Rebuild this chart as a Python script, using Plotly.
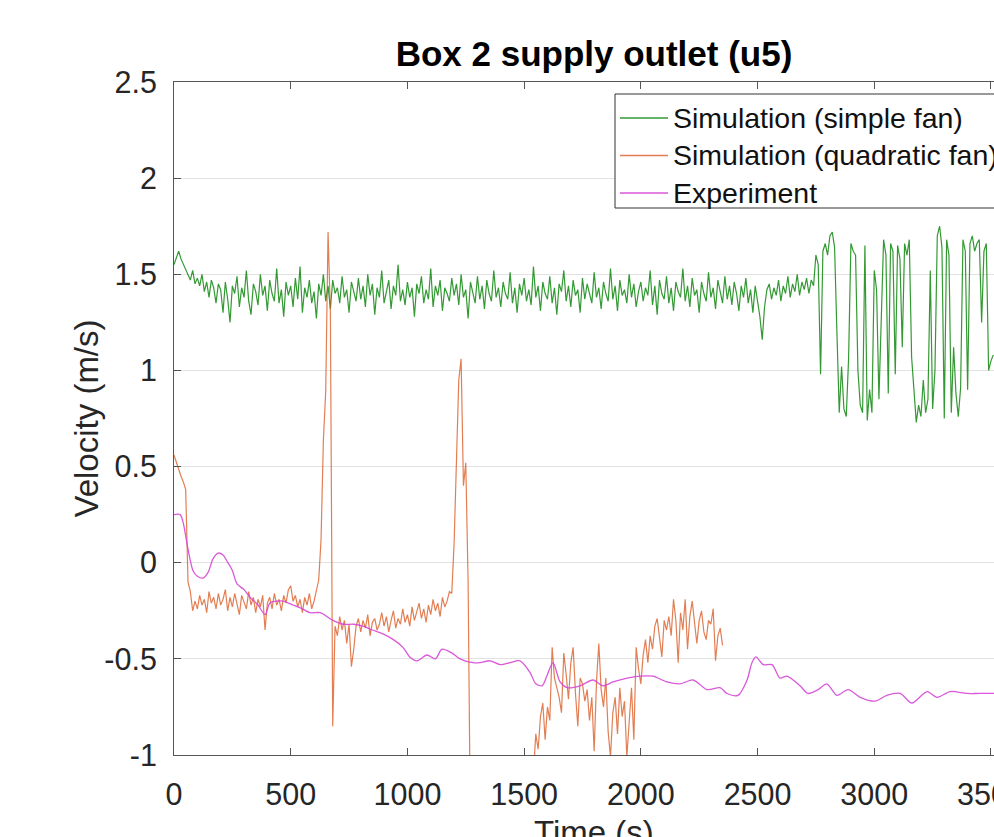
import plotly.graph_objects as go

# ---------------- data ----------------
sim_simple_t0, sim_simple_dt = 0, 10
sim_simple = [
    1.55, 1.58, 1.62, 1.58, 1.55, 1.52, 1.50, 1.47, 1.52, 1.45, 1.48, 1.44, 1.50, 1.41, 1.46, 1.38, 1.47, 1.43, 1.35, 1.45,
    1.42, 1.30, 1.46, 1.37, 1.25, 1.44, 1.40, 1.49, 1.33, 1.43, 1.38, 1.52, 1.36, 1.29, 1.45, 1.41, 1.34, 1.50, 1.39, 1.44,
    1.31, 1.47, 1.40, 1.36, 1.53, 1.35, 1.42, 1.28, 1.46, 1.39, 1.44, 1.33, 1.48, 1.37, 1.54, 1.30, 1.43, 1.38, 1.47, 1.35,
    1.41, 1.27, 1.45, 1.39, 1.50, 1.36, 1.44, 1.32, 1.47, 1.40, 1.43, 1.35, 1.49, 1.38, 1.42, 1.30, 1.46, 1.41, 1.36, 1.48,
    1.37, 1.44, 1.33, 1.50, 1.39, 1.45, 1.29, 1.43, 1.38, 1.52, 1.35, 1.41, 1.47, 1.32, 1.44, 1.39, 1.55, 1.36, 1.42, 1.34,
    1.46, 1.38, 1.43, 1.28, 1.45, 1.40, 1.49, 1.35, 1.42, 1.37, 1.53, 1.33, 1.44, 1.39, 1.47, 1.31, 1.43, 1.40, 1.36, 1.48,
    1.39, 1.45, 1.34, 1.50, 1.38, 1.42, 1.27, 1.46, 1.41, 1.35, 1.49, 1.37, 1.44, 1.32, 1.47, 1.40, 1.36, 1.52, 1.38, 1.43,
    1.33, 1.46, 1.40, 1.37, 1.51, 1.35, 1.43, 1.30, 1.45, 1.39, 1.48, 1.36, 1.42, 1.34, 1.54, 1.38, 1.44, 1.31, 1.46, 1.40,
    1.37, 1.49, 1.35, 1.43, 1.29, 1.45, 1.41, 1.52, 1.36, 1.44, 1.33, 1.47, 1.39, 1.42, 1.30, 1.48, 1.37, 1.45, 1.40, 1.35,
    1.51, 1.38, 1.43, 1.32, 1.46, 1.40, 1.36, 1.53, 1.37, 1.44, 1.31, 1.47, 1.39, 1.42, 1.35, 1.50, 1.38, 1.45, 1.33, 1.41,
    1.46, 1.36, 1.43, 1.39, 1.52, 1.34, 1.44, 1.29, 1.47, 1.40, 1.37, 1.49, 1.35, 1.43, 1.31, 1.46, 1.41, 1.38, 1.53, 1.36,
    1.44, 1.33, 1.48, 1.39, 1.42, 1.30, 1.46, 1.40, 1.36, 1.51, 1.38, 1.43, 1.32, 1.47, 1.41, 1.35, 1.49, 1.37, 1.44, 1.34,
    1.46, 1.40, 1.31, 1.44, 1.38, 1.48, 1.35, 1.42, 1.30, 1.44, 1.36, 1.28, 1.16, 1.33, 1.42, 1.45, 1.37, 1.43, 1.39, 1.47,
    1.36, 1.44, 1.40, 1.49, 1.38, 1.45, 1.41, 1.50, 1.39, 1.46, 1.42, 1.48, 1.40, 1.47, 1.44,
    1.60, 1.55, 0.98, 1.62, 1.66, 1.60, 1.70, 1.72, 1.64, 1.20, 0.78, 1.02, 0.80, 0.76, 1.06, 1.66, 1.62, 1.60, 1.00, 0.82,
    0.78, 1.65, 0.74, 0.90, 0.78, 1.52, 1.42, 0.85, 1.30, 1.68, 1.60, 0.88, 1.66, 1.62, 0.98, 1.65, 1.58, 1.12, 1.66, 1.60,
    1.68, 1.07, 0.90, 0.73, 0.82, 0.76, 0.95, 0.78, 0.85, 1.52, 0.80, 1.00, 1.70, 1.75, 1.64, 0.75, 1.68, 1.60, 0.78, 1.12,
    0.88, 0.76, 0.91, 1.68, 1.62, 0.90, 1.66, 1.70, 1.62, 1.66, 1.68, 1.25, 1.62, 1.66, 1.00, 1.05, 1.08,
]

sim_quad_t0, sim_quad_dt = 0, 10
sim_quad = [
    0.56, 0.52, 0.48, 0.45, 0.42, 0.38, -0.10, -0.15, -0.25, -0.20,
    -0.24, -0.17, -0.22, -0.19, -0.26, -0.15, -0.21, -0.18, -0.24, -0.16,
    -0.22, -0.19, -0.14, -0.25, -0.18, -0.23, -0.16, -0.21, -0.27, -0.17,
    -0.20, -0.24, -0.15, -0.22, -0.18, -0.26, -0.19, -0.23, -0.17, -0.35,
    -0.21, -0.18, -0.24, -0.16, -0.22, -0.19, -0.25, -0.17, -0.21, -0.14,
    -0.12, -0.20, -0.17, -0.23, -0.19, -0.26, -0.18, -0.22, -0.16, -0.24,
    -0.20, -0.15, -0.09, 0.12, 0.64, 0.89, 1.72, 1.30, -0.85, -0.33,
    -0.38, -0.28, -0.35, -0.30, -0.42, -0.32, -0.54, -0.45, -0.33, -0.29,
    -0.36, -0.30, -0.34, -0.27, -0.38, -0.31, -0.29, -0.35, -0.32, -0.26,
    -0.33, -0.28, -0.36, -0.30, -0.25, -0.34, -0.29, -0.32, -0.24, -0.31,
    -0.27, -0.33, -0.23, -0.30, -0.26, -0.21, -0.29, -0.24, -0.31, -0.22,
    -0.27, -0.19, -0.25, -0.21, -0.28, -0.18, -0.23, -0.20, -0.15, -0.16,
    0.10, 0.50, 0.95, 1.06, 0.40, 0.52, -0.10, -1.40, -1.60, -1.60,
    -1.60, -1.60, -1.60, -1.60, -1.60, -1.60, -1.60, -1.60, -1.60, -1.60,
    -1.60, -1.60, -1.60, -1.60, -1.60, -1.60, -1.60, -1.60, -1.60, -1.60,
    -1.60, -1.60, -1.60, -1.30, -1.10, -0.89, -0.97, -0.80, -0.73, -0.92,
    -0.75, -0.82, -0.44, -0.60, -0.65, -0.70, -0.78, -0.47, -0.58, -0.71,
    -0.52, -0.44, -0.68, -0.85, -0.60, -0.63, -0.72, -0.66, -0.82, -0.70,
    -0.98, -0.62, -0.42, -0.66, -0.75, -0.60, -0.88, -1.01, -0.78, -0.70,
    -0.89, -0.65, -0.80, -0.72, -1.01, -0.80, -0.65, -0.92, -0.44, -0.55,
    -0.63, -0.48, -0.40, -0.52, -0.38, -0.45, -0.33, -0.29, -0.40, -0.49,
    -0.30, -0.35, -0.28, -0.38, -0.19, -0.30, -0.52, -0.26, -0.35, -0.19,
    -0.45, -0.28, -0.20, -0.33, -0.42, -0.30, -0.25, -0.36, -0.40, -0.30,
    -0.32, -0.24, -0.51, -0.38, -0.34, -0.43,
]

exp_time = [0, 26, 39, 60, 81, 100, 124, 146, 167, 189, 210, 231, 250, 270, 300, 326, 360, 390, 411, 440,
            467, 510, 550, 583, 626, 681, 724, 770, 810, 850, 895, 940, 981, 1010, 1041, 1084, 1120, 1148, 1191, 1225,
            1281, 1311, 1354, 1397, 1440, 1482, 1525, 1550, 1577, 1597, 1624, 1654, 1684, 1740, 1795, 1838, 1881, 1941, 1997, 2052,
            2112, 2168, 2224, 2284, 2339, 2369, 2416, 2455, 2476, 2493, 2524, 2562, 2596, 2626, 2682, 2716, 2760, 2797, 2840, 2888,
            2940, 3004, 3054, 3111, 3161, 3226, 3269, 3325, 3397, 3450, 3513]
exp_vel = [0.25, 0.25, 0.21, 0.07, -0.04, -0.07, -0.08, -0.05, 0.02, 0.05, 0.04, 0.0, -0.04, -0.11, -0.14, -0.18, -0.22, -0.27, -0.21, -0.20,
           -0.20, -0.22, -0.24, -0.26, -0.26, -0.30, -0.32, -0.32, -0.33, -0.35, -0.37, -0.40, -0.44, -0.49, -0.51, -0.48, -0.50, -0.45, -0.47, -0.50,
           -0.52, -0.52, -0.51, -0.53, -0.52, -0.51, -0.57, -0.63, -0.64, -0.59, -0.52, -0.62, -0.65, -0.64, -0.61, -0.64, -0.62, -0.60, -0.59, -0.59,
           -0.62, -0.63, -0.61, -0.66, -0.65, -0.68, -0.69, -0.61, -0.52, -0.49, -0.53, -0.53, -0.60, -0.59, -0.64, -0.68, -0.66, -0.63, -0.69, -0.66,
           -0.70, -0.72, -0.69, -0.68, -0.73, -0.67, -0.70, -0.67, -0.68, -0.68, -0.68]

x_ticks = [0, 500, 1000, 1500, 2000, 2500, 3000, 3500]
x_tick_text = ["0", "500", "1000", "1500", "2000", "2500", "3000", "3500"]
y_ticks = [-1, -0.5, 0, 0.5, 1, 1.5, 2, 2.5]
y_tick_text = ["-1", "-0.5", "0", "0.5", "1", "1.5", "2", "2.5"]

series_names = ["Simulation (simple fan)", "Simulation (quadratic fan)", "Experiment"]
series_colors = ["rgba(0,128,0,0.8)", "rgba(217,83,25,0.75)", "rgba(214,70,214,0.9)"]
title_text = "Box 2 supply outlet (u5)"
x_label = "Time (s)"
y_label = "Velocity (m/s)"

# ---------------- figure ----------------
FONT = "Liberation Sans, Arial, Helvetica, sans-serif"
L, T, PW, PH = 174, 82, 820, 673  # plot area in pixels
X_MAX = 3513


def px_x(px):
    return (px - L) / PW


def px_y(py):
    return (T + PH - py) / PH


def px_to_data_x(px):
    return (px - L) / PW * X_MAX


t_simple = [sim_simple_t0 + i * sim_simple_dt for i in range(len(sim_simple))]
t_quad = [sim_quad_t0 + i * sim_quad_dt for i in range(len(sim_quad))]

fig = go.Figure()
fig.add_trace(go.Scatter(x=t_simple, y=sim_simple, mode="lines", name=series_names[0],
                         line=dict(color=series_colors[0], width=1.2), showlegend=False))
fig.add_trace(go.Scatter(x=t_quad, y=sim_quad, mode="lines", name=series_names[1],
                         line=dict(color=series_colors[1], width=1.2), showlegend=False))
fig.add_trace(go.Scatter(x=exp_time, y=exp_vel, mode="lines", name=series_names[2],
                         line=dict(color=series_colors[2], width=1.3, shape="spline", smoothing=0.8),
                         showlegend=False))

# Legend (box runs past the right edge of the picture, as in the reference)
shapes = [dict(type="rect", xref="paper", yref="paper", x0=px_x(615), x1=px_x(1012),
               y0=px_y(208), y1=px_y(94), fillcolor="white", line=dict(color="#333333", width=1),
               layer="above")]
annotations = []
row_y = [118, 155.5, 193]
for name, col, ry in zip(series_names, series_colors, row_y):
    shapes.append(dict(type="line", xref="paper", yref="paper", x0=px_x(620), x1=px_x(668),
                       y0=px_y(ry), y1=px_y(ry), line=dict(color=col, width=1.3), layer="above"))
    annotations.append(dict(text=name, xref="x", yref="paper", x=px_to_data_x(671), y=px_y(ry),
                            xanchor="left", yanchor="middle", showarrow=False,
                            font=dict(family=FONT, size=28.5, color="#111111")))

annotations += [
    dict(text=x_label, xref="paper", yref="paper", x=px_x(594), y=px_y(832),
         xanchor="center", yanchor="middle", showarrow=False,
         font=dict(family=FONT, size=33, color="#262626")),
    dict(text=y_label, xref="paper", yref="paper", x=px_x(86), y=0.5,
         xanchor="center", yanchor="middle", showarrow=False, textangle=-90,
         font=dict(family=FONT, size=33, color="#262626")),
]

axis_col = "#555555"
fig.update_layout(
    width=994, height=837,
    margin=dict(l=L, r=0, t=T, b=837 - T - PH),
    paper_bgcolor="white", plot_bgcolor="white",
    font=dict(family=FONT, size=30, color="#262626"),
    showlegend=False,
    title=dict(text="<b>" + title_text + "</b>", x=px_x(594), xref="paper",
               y=1 - 54 / 837, yref="container", xanchor="center", yanchor="middle",
               font=dict(family=FONT, size=35, color="#000000")),
    xaxis=dict(range=[0, X_MAX], tickvals=x_ticks, ticktext=x_tick_text,
               showgrid=False, zeroline=False, showline=True, linecolor=axis_col, linewidth=1,
               mirror="ticks", ticks="inside", ticklen=7, tickcolor=axis_col, tickwidth=1,
               ticklabelstandoff=12, ticklabeloverflow="allow", automargin=False,
               tickfont=dict(size=30.5, color="#262626")),
    yaxis=dict(range=[-1, 2.5], tickvals=y_ticks, ticktext=y_tick_text,
               showgrid=True, gridcolor="#e2e2e2", gridwidth=1, zeroline=False,
               showline=True, linecolor=axis_col, linewidth=1, mirror=False,
               ticks="inside", ticklen=7, tickcolor=axis_col, tickwidth=1, automargin=False,
               ticklabelstandoff=10, tickfont=dict(size=30.5, color="#262626")),
    shapes=shapes,
    annotations=annotations,
)

fig.write_html("out.html")
